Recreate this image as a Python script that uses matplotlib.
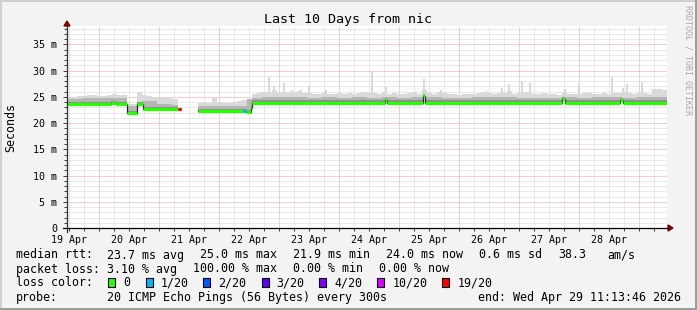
import numpy as np
import pandas as pd
import matplotlib
matplotlib.use('Agg')
import matplotlib.pyplot as plt
from matplotlib.patches import Rectangle, Polygon
from matplotlib.lines import Line2D

## data, times are hours after graph start
start = pd.Timestamp('2026-04-19 11:13:46')
span_h = 240

# median rtt (ms) as steps between edges, loss level per step (20 = no data)
med_edges = [0, 17.6, 19.6, 24, 28, 30.4, 44.4, 45.6, 52.4, 70.3, 71.7, 73.6, 74,
             127.2, 128, 142.2, 143.2, 198, 199.2, 221.2, 222.4, 240]
med_ms = [23.6, 23.8, 23.6, 21.9, 23.6, 22.6, 22.6, np.nan, 22.3, 22.3, 22.1, 22.8, 23.9,
          24.3, 23.9, 25.1, 23.9, 24.5, 23.9, 24.4, 23.9]
med_loss = [0, 0, 0, 0, 0, 0, 19, 20, 0, 1, 0, 0, 0, 0, 0, 0, 0, 0, 0, 0, 0]

# top of the light smoke, 2 hour bins (one row per day)
smoke_hi = [
    25.0, 25.0, 25.1, 25.2, 25.3, 25.3, 25.2, 25.1, 25.3, 25.6, 25.4, 25.3,
    23.7, 23.7, 25.9, 25.4, 25.2, 24.9, 24.8, 24.7, 24.9, 24.6, 24.3, np.nan,
    np.nan, np.nan, 23.9, 24.0, 23.9, 24.9, 24.0, 23.8, 23.9, 24.0, 24.2, 24.4,
    24.5, 25.6, 25.7, 25.9, 26.0, 26.2, 25.8, 26.0, 25.7, 26.0, 26.1, 25.8,
    25.8, 25.6, 25.5, 25.8, 25.6, 25.5, 25.8, 25.6, 25.8, 25.5, 25.7, 25.9,
    25.8, 25.7, 25.6, 26.0, 25.5, 25.7, 25.5, 25.6, 25.7, 25.9, 25.6, 26.3,
    25.7, 25.6, 26.0, 25.8, 25.5, 25.6, 25.4, 25.6, 25.5, 25.6, 25.7, 26.0,
    25.8, 25.6, 25.7, 25.8, 26.1, 25.6, 25.7, 25.9, 25.8, 25.5, 25.6, 25.8,
    25.6, 25.5, 25.4, 26.0, 25.5, 25.6, 25.5, 25.8, 25.7, 25.6, 25.5, 25.7,
    25.6, 25.8, 25.7, 26.0, 25.8, 25.6, 25.8, 25.7, 25.6, 26.4, 26.5, 26.3,
]
# top of the darker smoke, 6 hour bins
smoke_mid = [
    24.6, 24.7, 24.8, 24.7,
    23.3, 24.1, 23.6, 23.4,
    23.2, 23.2, 23.2, 23.3,
    24.8, 24.9, 25.0, 24.9,
    24.8, 24.9, 24.8, 24.9,
    24.8, 24.9, 24.8, 25.0,
    24.9, 24.8, 24.8, 24.9,
    24.9, 25.0, 24.8, 24.8,
    24.8, 24.9, 24.8, 24.9,
    24.9, 24.8, 24.9, 25.0,
]
# single tall smoke spikes
spike_h = [80.8, 82.8, 86.6, 90.0, 93.6, 96.6, 103.4, 121.8, 127.6, 142.8, 149.6,
           167.8, 174.0, 176.8, 181.8, 185.0, 199.0, 204.8, 217.8, 222.2, 224.0, 229.8]
spike_ms = [28.7, 27.1, 27.7, 26.2, 26.3, 27.1, 26.2, 29.7, 26.9, 28.4, 26.2,
            26.3, 26.7, 27.4, 28.0, 27.6, 26.4, 27.6, 28.8, 26.6, 27.5, 27.9]

loss_levels = [0, 1, 2, 3, 4, 10, 19]
loss_names = ['0', '1/20', '2/20', '3/20', '4/20', '10/20', '19/20']
loss_colors = ['#26ff00', '#00b8ff', '#0059ff', '#5e00ff', '#7e00ff', '#dd00ff', '#ff0000']

rtt_stats = ['23.7 ms avg', '25.0 ms max', '21.9 ms min', '24.0 ms now', '0.6 ms sd', '38.3', 'am/s']
loss_stats = ['3.10 % avg', '100.00 % max', '0.00 % min', '0.00 % now']
probe_text = '20 ICMP Echo Pings (56 Bytes) every 300s'
end_text = 'end: Wed Apr 29 11:13:46 2026'
title = 'Last 10 Days from nic'

## layout in pixels
W, H = 697, 310
def fx(x):
    return x / W
def fy(y):
    return 1 - y / H

mono = 'DejaVu Sans Mono'
fig = plt.figure(figsize=(W / 100, H / 100), dpi=100, facecolor='#f3f3f3')
ax = fig.add_axes([fx(67), fy(228), 600 / W, 202 / H], facecolor='white')
ax.set_xlim(0, span_h)
ax.set_ylim(0, 202 / 5.249)
for s in ax.spines.values():
    s.set_visible(False)


def step_at(edges, vals, t):
    i = np.clip(np.searchsorted(edges, t, side='right') - 1, 0, len(vals) - 1)
    return np.asarray(vals, dtype=float)[i]


hi_edges = np.arange(0, span_h + 1, 2)
mid_edges = np.arange(0, span_h + 1, 6)
t = np.unique(np.concatenate([med_edges, hi_edges, mid_edges]).astype(float))
med_t = step_at(med_edges, med_ms, t)
hi_t = step_at(hi_edges, smoke_hi, t)
hi_t[np.isnan(med_t)] = np.nan
mid_t = np.minimum(step_at(mid_edges, smoke_mid, t), hi_t)
dark_t = np.minimum(med_t + 0.45, hi_t)

## grid
six_h = ((pd.date_range('2026-04-19 12:00', '2026-04-29 06:00', freq='6h') - start) / pd.Timedelta('1h')).values
midnight_h = ((pd.date_range('2026-04-20', periods=10, freq='D') - start) / pd.Timedelta('1h')).values
noon = pd.date_range('2026-04-19 12:00', periods=10, freq='D')
noon_h = ((noon - start) / pd.Timedelta('1h')).values

for h in six_h:
    if np.min(np.abs(midnight_h - h)) > 0.01:
        ax.axvline(h, color='#d4d4d4', lw=0.72, ls=(0, (1, 1)), zorder=0.5)
for h in midnight_h:
    ax.axvline(h, color='#f2a0a0', lw=0.72, ls=(0, (1, 1)), zorder=0.6)
for v in range(1, 39):
    if v % 5:
        ax.axhline(v, color='#d4d4d4', lw=0.72, ls=(0, (1, 1)), zorder=0.5)
    else:
        ax.axhline(v, color='#f2a0a0', lw=0.72, ls=(0, (1, 1)), zorder=0.6)

## smoke
ax.fill_between(t, med_t, hi_t, step='post', color='#d9d9d9', lw=0, zorder=2)
spike_base = step_at(med_edges, med_ms, np.array(spike_h))
ax.bar(spike_h, np.array(spike_ms) - spike_base, bottom=spike_base, width=0.8,
       color='#d9d9d9', lw=0, zorder=2)
ax.fill_between(t, med_t, mid_t, step='post', color='#b5b5b5', lw=0, zorder=3)
ax.fill_between(t, med_t, dark_t, step='post', color='#8e8e8e', lw=0, zorder=3.5)

## median coloured by loss
ax.step(t, med_t, where='post', color='#202020', lw=0.9, zorder=4)
for i in range(len(med_ms)):
    if med_loss[i] in loss_levels:
        c = loss_colors[loss_levels.index(med_loss[i])]
        ax.hlines(med_ms[i], med_edges[i], med_edges[i + 1], color=c, lw=2.3, zorder=5)

## ticks
ax.set_xticks(noon_h, labels=[d.strftime('%d %b') for d in noon])
ax.set_xticks(six_h, minor=True)
ax.set_yticks(range(0, 36, 5), labels=['0'] + ['%d m' % v for v in range(5, 36, 5)])
ax.set_yticks(range(1, 39), minor=True)
ax.tick_params(axis='both', which='both', direction='out', color='#404040', width=0.72,
               labelsize=7.2, labelcolor='black')
ax.tick_params(axis='x', which='major', length=2, pad=3)
ax.tick_params(axis='x', which='minor', length=2)
ax.tick_params(axis='y', which='major', length=3, pad=4)
ax.tick_params(axis='y', which='minor', length=2)
for lab in ax.get_xticklabels() + ax.get_yticklabels():
    lab.set_family(mono)

## axes lines and arrows
fig.add_artist(Line2D([fx(63), fx(668)], [fy(228), fy(228)], color='black', lw=0.9,
                      transform=fig.transFigure))
fig.add_artist(Line2D([fx(67), fx(67)], [fy(232), fy(26)], color='#333333', lw=0.9,
                      transform=fig.transFigure))
fig.add_artist(Polygon([(fx(668), fy(225)), (fx(673), fy(228)), (fx(668), fy(231))],
                       closed=True, color='#7f0000', transform=fig.transFigure))
fig.add_artist(Polygon([(fx(64), fy(26)), (fx(67), fy(21)), (fx(70), fy(26))],
                       closed=True, color='#7f0000', transform=fig.transFigure))

## texts
fig.text(fx(348.5), fy(19.5), title, family=mono, fontsize=9.6, ha='center', va='center')
fig.text(fx(11), fy(127), 'Seconds', family=mono, fontsize=8.4, rotation=90,
         ha='center', va='center')
fig.text(fx(688), fy(60), 'RRDTOOL / TOBI OETIKER', family=mono, fontsize=6,
         rotation=270, ha='center', va='center', color='#aaaaaa')

lg = dict(family=mono, fontsize=8.4, va='baseline')
rows = [258.5, 272.5, 286.5, 300.5]
fig.text(fx(16), fy(rows[0]), 'median rtt:', **lg)
for x, s in zip([107.3, 200, 293.3, 386, 479, 558.3, 607.3], rtt_stats):
    fig.text(fx(x), fy(rows[0]), s, **lg)
fig.text(fx(16), fy(rows[1]), 'packet loss:', **lg)
for x, s in zip([107.3, 193.3, 293.3, 379.3], loss_stats):
    fig.text(fx(x), fy(rows[1]), s, **lg)
fig.text(fx(16), fy(rows[2]), 'loss color:', **lg)
for x, name, c in zip([108.3, 145.7, 203.3, 261.7, 319.3, 377.3, 442.3], loss_names, loss_colors):
    fig.add_artist(Rectangle((fx(x), fy(286.5)), 7 / W, 8.5 / H, facecolor=c,
                             edgecolor='black', lw=0.8, transform=fig.transFigure))
    fig.text(fx(x + 15), fy(rows[2]), name, **lg)
fig.text(fx(16), fy(rows[3]), 'probe:', **lg)
fig.text(fx(107.3), fy(rows[3]), probe_text, **lg)
fig.text(fx(478.3), fy(rows[3]), end_text, **lg)

## image frame shading
fig.add_artist(Rectangle((0, fy(2)), 1, 2 / H, color='#d0d0d0', lw=0, transform=fig.transFigure))
fig.add_artist(Rectangle((0, 0), 2 / W, 1, color='#d0d0d0', lw=0, transform=fig.transFigure))
fig.add_artist(Rectangle((0, 0), 1, 2 / H, color='#9e9e9e', lw=0, transform=fig.transFigure))
fig.add_artist(Rectangle((fx(695), 0), 2 / W, 1, color='#9e9e9e', lw=0, transform=fig.transFigure))

fig.savefig('out.png', dpi=100, facecolor=fig.get_facecolor())
